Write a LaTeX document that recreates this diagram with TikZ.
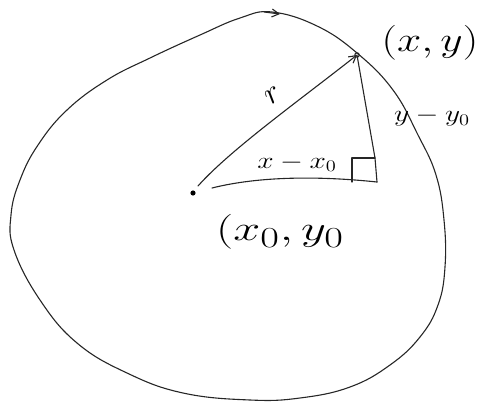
\documentclass[tikz,border=0pt]{standalone}
\usetikzlibrary{arrows.meta}
\newcommand{\biglab}[2]{\scalebox{#1}[1.4]{\Huge #2}}
\newcommand{\smalllab}[1]{\scalebox{1.7}[1.35]{\LARGE #1}}
\begin{document}
\begin{tikzpicture}[x=1pt,y=-1pt,line width=1.1pt,line cap=round,line join=round,
  hand/.style={draw=black!85},
  tip/.style={-{Straight Barb[length=7pt,width=8pt]}}]
\useasboundingbox (0,0) rectangle (483,402);
% circle outline (hand drawn)
\draw[hand]
  plot[smooth cycle, tension=0.7] coordinates {
  (272,12) (317,26) (357,53) (393,90) (418,135) (436,175) (444,220) (445,267)
  (438,305) (420,337) (390,365) (350,387) (300,398) (250,400) (183,393)
  (127,373) (77,343) (40,300) (14,250) (11,215) (20,180) (38,145) (67,110)
  (107,80) (150,58) (200,35) (240,18)};
% small direction mark on the outline
\coordinate (ma) at (264,12);
\coordinate (mb) at (280,14);
\draw[hand,tip] (ma) -- (mb);
% key points
\coordinate (c) at (193,193);
\coordinate (p) at (357,55);
\coordinate (rs) at (198,186);
\coordinate (hs) at (212,188);
\coordinate (q) at (377,182);
\coordinate (vt) at (375,158);
\coordinate (bl) at (352,158);
\coordinate (bb) at (352,182);
\fill (c) circle (2.6pt);
\draw[hand] (p) circle (2.2pt);
% radius
\draw[hand,tip] (rs) .. controls (230,150) and (300,100) .. (p);
% horizontal leg
\draw[hand] (hs) .. controls (260,176) and (320,176) .. (q);
% vertical leg
\draw[hand] (p) -- (vt) -- (q);
% right-angle box
\draw[hand] (bb) -- (bl) -- (vt);
% labels
\node[rotate=35] (rl) at (273,95) {\scalebox{1.3}{\Huge $r$}};
\node (pl) at (430,43) {\biglab{1.75}{$(x,y)$}};
\node (yl) at (432,117) {\smalllab{$y-y_0$}};
\node (xl) at (297,163) {\smalllab{$x-x_0$}};
\node (cl) at (280,232) {\biglab{1.95}{$(x_0,y_0$}};
\end{tikzpicture}
\end{document}
